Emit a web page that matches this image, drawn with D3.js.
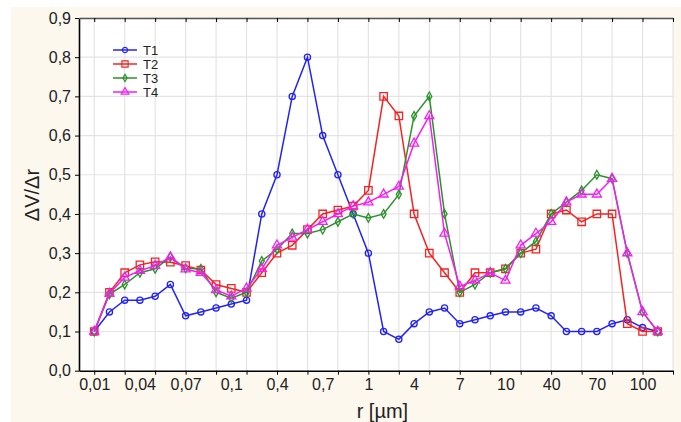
<!DOCTYPE html>
<html>
<head>
<meta charset="utf-8">
<script src="https://cdn.jsdelivr.net/npm/d3@7"></script>
<style>
  body { margin: 0; background: #fff; }
  svg { display: block; font-family: 'Liberation Sans', Arial, sans-serif; }
</style>
</head>
<body>
<div class="canvas"></div>
<script>
// x positions are plain indices, labels every 3rd point
const xLabels = ['0,01', '0,04', '0,07', '0,1', '0,4', '0,7', '1', '4', '7', '10', '40', '70', '100']
const seriesNames = ['T1', 'T2', 'T3', 'T4']

const t1 = [0.10, 0.15, 0.18, 0.18, 0.19, 0.22, 0.14, 0.15, 0.16, 0.17, 0.18, 0.40, 0.50, 0.70, 0.80, 0.60, 0.50, 0.40, 0.30, 0.10,
  0.08, 0.12, 0.15, 0.16, 0.12, 0.13, 0.14, 0.15, 0.15, 0.16, 0.14, 0.10, 0.10, 0.10, 0.12, 0.13, 0.11, 0.10]
const t2 = [0.10, 0.20, 0.25, 0.27, 0.278, 0.277, 0.268, 0.257, 0.22, 0.21, 0.20, 0.25, 0.30, 0.32, 0.36, 0.40, 0.41, 0.42, 0.46, 0.70,
  0.65, 0.40, 0.30, 0.25, 0.20, 0.25, 0.25, 0.26, 0.30, 0.31, 0.40, 0.41, 0.38, 0.40, 0.40, 0.12, 0.10, 0.10]
const t3 = [0.10, 0.195, 0.22, 0.25, 0.26, 0.29, 0.261, 0.26, 0.20, 0.185, 0.20, 0.28, 0.31, 0.35, 0.35, 0.36, 0.38, 0.40, 0.39, 0.40,
  0.45, 0.65, 0.70, 0.40, 0.20, 0.22, 0.25, 0.26, 0.30, 0.33, 0.40, 0.43, 0.46, 0.50, 0.49, 0.30, 0.15, 0.10]
const t4 = [0.10, 0.197, 0.238, 0.255, 0.268, 0.29, 0.259, 0.25, 0.206, 0.19, 0.21, 0.26, 0.32, 0.34, 0.36, 0.38, 0.40, 0.42, 0.43, 0.45,
  0.47, 0.58, 0.65, 0.35, 0.215, 0.23, 0.25, 0.23, 0.32, 0.35, 0.38, 0.43, 0.45, 0.45, 0.49, 0.30, 0.15, 0.10]

const colors = ['#2323f5', '#f52323', '#2a922a', '#f51ef5']
const shapes = [d3.symbolCircle, d3.symbolSquare, d3.symbolDiamond, d3.symbolTriangle]
const symSizes = [30, 55, 22, 36]

const dims = { width: 681, height: 422 }
const margin = { left: 79, top: 18, right: 8, bottom: 51.3 }
const innerW = dims.width - margin.left - margin.right
const innerH = dims.height - margin.top - margin.bottom

const svg = d3.select('.canvas')
  .append('svg')
  .attr('width', dims.width)
  .attr('height', dims.height)

// cream panel behind the chart
svg.append('rect')
  .attr('x', 11).attr('y', 7)
  .attr('width', dims.width - 11).attr('height', dims.height - 7)
  .attr('fill', '#fdf8ee')

const graph = svg.append('g')
  .attr('transform', `translate(${margin.left}, ${margin.top})`)

graph.append('rect')
  .attr('width', innerW).attr('height', innerH)
  .attr('fill', '#fff')

const x = d3.scaleLinear().domain([-1, 38]).range([0, innerW])
const y = d3.scaleLinear().domain([0, 0.9]).range([innerH, 0])

const gridX = d3.range(0, 39, 2)
const yTicks = d3.range(0, 10).map((d) => d / 10)

// grid
graph.append('g')
  .selectAll('line.gx')
  .data(gridX)
  .join('line')
  .attr('x1', (d) => x(d)).attr('x2', (d) => x(d))
  .attr('y1', 0).attr('y2', innerH)
  .attr('stroke', '#e4e4e4')
  .attr('stroke-width', 1.2)

graph.append('g')
  .selectAll('line.gy')
  .data(yTicks.slice(1))
  .join('line')
  .attr('x1', 0).attr('x2', innerW)
  .attr('y1', (d) => y(d)).attr('y2', (d) => y(d))
  .attr('stroke', '#e4e4e4')
  .attr('stroke-width', 1.2)

// axes
const fmt = (d) => d3.format('.1f')(d).replace('.', ',')

const yAxis = graph.append('g')
  .call(d3.axisLeft(y).tickValues(yTicks).tickFormat(fmt).tickSize(4).tickSizeOuter(0))
yAxis.selectAll('text').attr('font-size', 16).attr('fill', '#222').attr('dx', -1)

const xAxis = graph.append('g')
  .attr('transform', `translate(0, ${innerH})`)
  .call(d3.axisBottom(x).tickValues(gridX).tickFormat('').tickSize(4).tickSizeOuter(0))

const xLabelAxis = graph.append('g')
  .attr('transform', `translate(0, ${innerH})`)
  .call(d3.axisBottom(x).tickValues(xLabels.map((d, i) => i * 3)).tickFormat((d) => xLabels[d / 3]).tickSize(0))
xLabelAxis.select('.domain').remove()
xLabelAxis.selectAll('text').attr('font-size', 16).attr('fill', '#222').attr('dy', '1.0em')

const topAxis = graph.append('g')
  .call(d3.axisTop(x).tickValues(gridX).tickFormat('').tickSize(-4).tickSizeOuter(0))
topAxis.select('.domain').attr('stroke', '#555')

graph.selectAll('.domain').attr('stroke-width', 1.6)

// titles
svg.append('text')
  .attr('transform', `translate(39, 195) rotate(-90)`)
  .attr('text-anchor', 'middle')
  .attr('font-size', 20)
  .attr('fill', '#222')
  .text('ΔV/Δr')

svg.append('text')
  .attr('x', margin.left + x(18) + 14)
  .attr('y', 418)
  .attr('text-anchor', 'middle')
  .attr('font-size', 20)
  .attr('fill', '#222')
  .text('r [µm]')

// series
const series = [t1, t2, t3, t4]
const line = d3.line().x((d, i) => x(i)).y((d) => y(d))

series.forEach((vals, k) => {
  const g = graph.append('g')
  g.append('path')
    .datum(vals)
    .attr('d', line)
    .attr('fill', 'none')
    .attr('stroke', colors[k])
    .attr('stroke-width', 1.5)
  g.selectAll('path.pt')
    .data(vals)
    .join('path')
    .attr('class', 'pt')
    .attr('transform', (d, i) => `translate(${x(i)}, ${y(d)})`)
    .attr('d', d3.symbol().type(shapes[k]).size(symSizes[k]))
    .attr('fill', 'none')
    .attr('stroke', colors[k])
    .attr('stroke-width', 1.3)
})

// legend
const legend = svg.append('g').attr('transform', 'translate(113, 50)')
seriesNames.forEach((name, k) => {
  const row = legend.append('g').attr('transform', `translate(0, ${k * 14})`)
  row.append('line')
    .attr('x1', 0).attr('x2', 24)
    .attr('stroke', colors[k]).attr('stroke-width', 1.5)
  row.append('path')
    .attr('transform', 'translate(12, 0)')
    .attr('d', d3.symbol().type(shapes[k]).size(symSizes[k] * 0.7))
    .attr('fill', 'none').attr('stroke', colors[k]).attr('stroke-width', 1.2)
  row.append('text')
    .attr('x', 30).attr('y', 5)
    .attr('font-size', 13)
    .attr('fill', '#222')
    .text(name)
})
</script>
</body>
</html>
